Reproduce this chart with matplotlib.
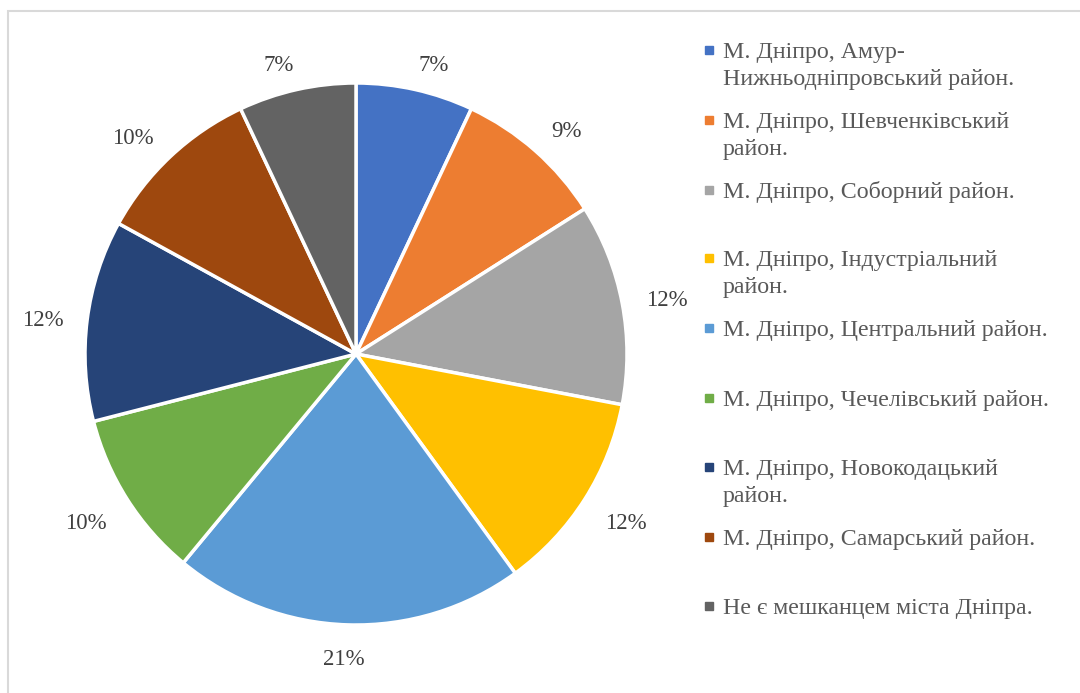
import numpy as np
import matplotlib.pyplot as plt
from matplotlib.patches import Rectangle

districts = [
    'М. Дніпро, Амур-\nНижньодніпровський район.',
    'М. Дніпро, Шевченківський\nрайон.',
    'М. Дніпро, Соборний район.',
    'М. Дніпро, Індустріальний\nрайон.',
    'М. Дніпро, Центральний район.',
    'М. Дніпро, Чечелівський район.',
    'М. Дніпро, Новокодацький\nрайон.',
    'М. Дніпро, Самарський район.',
    'Не є мешканцем міста Дніпра.',
]
shares = [7, 9, 12, 12, 21, 10, 12, 10, 7]
colors = ['#4472C4', '#ED7D31', '#A5A5A5', '#FFC000', '#5B9BD5',
          '#70AD47', '#264478', '#9E480E', '#636363']

plt.rcParams['font.family'] = ['Liberation Serif', 'DejaVu Serif']

W, H = 1080, 693
fig = plt.figure(figsize=(W / 100, H / 100), dpi=100)

# light frame around the chart area
fig.patches.append(Rectangle((8 / W, -0.1), 1.2, 1 - 11 / H + 0.1,
                             transform=fig.transFigure, fill=False,
                             edgecolor='#D9D9D9', linewidth=1.5))

cx, cy, r = 356, 354, 271
ax = fig.add_axes([(cx - r) / W, (H - cy - r) / H, 2 * r / W, 2 * r / H])
wedges, texts = ax.pie(shares, colors=colors, startangle=90, counterclock=False,
                       labels=[f'{v}%' for v in shares], labeldistance=1.1,
                       textprops=dict(fontsize=16.5, color='#404040'),
                       wedgeprops=dict(edgecolor='white', linewidth=2.5))
ax.set_xlim(-1, 1)
ax.set_ylim(-1, 1)
ax.set_aspect('equal')
ax.axis('off')

# outside-end labels: push each one off the rim by its own half width/height
fig.canvas.draw()
renderer = fig.canvas.get_renderer()
pad = 24            # px beyond the rim
half_cap = 0.33 * 16.5 * 100 / 72
for w, t in zip(wedges, texts):
    hw = t.get_window_extent(renderer).width / 2
    ang = np.deg2rad((w.theta1 + w.theta2) / 2)
    ux, uy = np.cos(ang), np.sin(ang)
    px = (r + pad) * ux + np.sign(ux) * hw * min(1, 4 * abs(ux))
    py = (r + pad) * uy + np.sign(uy) * 6 * min(1, 2.5 * abs(uy)) - 3
    t.set_ha('center')
    t.set_va('baseline')
    t.set_position((px / r, (py - half_cap) / r))

# legend entries on the right, one text per line
rows = [50, 120, 190, 258, 328, 398, 467, 537, 606]
leg_size = 17.2
line_gap = 27
leg_cap = 0.33 * leg_size * 100 / 72
for label, color, y in zip(districts, colors, rows):
    s = 8
    fig.patches.append(Rectangle(((709 - s / 2) / W, (H - y - s / 2) / H), s / W, s / H,
                                 transform=fig.transFigure, color=color))
    for i, line in enumerate(label.split('\n')):
        base = y + leg_cap + i * line_gap
        fig.text(723 / W, (H - base) / H, line, ha='left', va='baseline',
                 fontsize=leg_size, color='#595959')

fig.savefig('out.png', dpi=100)
